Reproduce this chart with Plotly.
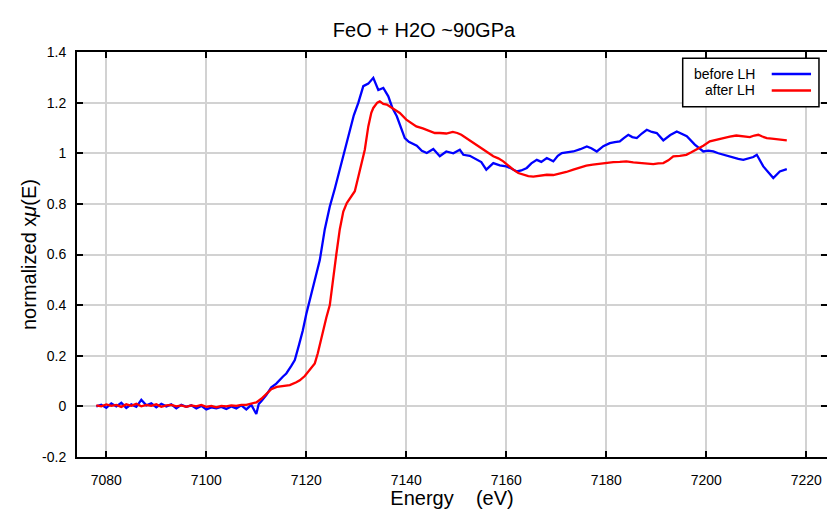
import plotly.graph_objects as go

# ---- data ----
before_energy = [7078, 7079, 7080, 7081, 7082, 7083, 7084, 7085, 7086, 7087, 7088, 7089,
                 7090, 7091, 7092, 7093, 7094, 7095, 7096, 7097, 7098, 7099, 7100, 7101,
                 7102, 7103, 7104, 7105, 7106, 7107, 7108, 7109, 7110, 7110.5, 7111, 7112,
                 7113, 7114, 7115.3, 7116, 7117, 7117.7, 7118.5, 7119.3, 7120, 7121, 7122,
                 7122.7, 7123.7, 7124.7, 7125.7, 7126.7, 7127.7, 7128.7, 7129.5, 7130.4,
                 7131.4, 7132.4, 7133.4, 7134.4, 7135.4, 7136.4, 7137.2, 7138.1, 7139,
                 7139.7, 7140.5, 7141.3, 7142.1, 7143.1, 7144.1, 7145.4, 7146.7, 7148,
                 7149.4, 7150.7, 7151.4, 7152.7, 7154, 7155, 7156, 7157.4, 7158.7, 7160,
                 7161, 7162.1, 7163, 7164.1, 7165, 7166.1, 7167, 7168.1, 7169.4, 7170.3,
                 7171.1, 7172.3, 7173.4, 7174.8, 7176.1, 7177, 7178.1, 7179.4, 7180.7,
                 7181.7, 7182.7, 7183.5, 7184.4, 7185.2, 7186.1, 7187.1, 7188.1, 7189.1,
                 7190.1, 7191.4, 7192.8, 7194.1, 7195.1, 7196.1, 7197.7, 7199.4, 7200.4,
                 7201.4, 7202.4, 7203.4, 7204.4, 7205.4, 7206.4, 7207.4, 7208.4, 7209.4,
                 7210.1, 7211.4, 7212.4, 7213.4, 7214.7, 7216.1]
before_mu = [0.000, 0.006, -0.006, 0.012, 0.000, 0.014, -0.006, 0.008, -0.002, 0.026, 0.004, 0.012,
             -0.004, 0.010, 0.000, 0.008, -0.008, 0.006, -0.002, 0.004, -0.008, 0.002, -0.012, -0.004,
             -0.008, -0.002, -0.010, 0.000, -0.008, 0.004, -0.012, 0.006, -0.030, 0.010, 0.020, 0.045,
             0.075, 0.090, 0.117, 0.130, 0.160, 0.183, 0.240, 0.300, 0.365, 0.440, 0.520,
             0.578, 0.700, 0.790, 0.860, 0.935, 1.020, 1.093, 1.150, 1.199,
             1.265, 1.275, 1.298, 1.250, 1.258, 1.225, 1.180, 1.146, 1.100,
             1.060, 1.045, 1.036, 1.030, 1.010, 1.001, 1.017, 0.988, 1.007,
             1.000, 1.014, 0.994, 0.990, 0.974, 0.965, 0.935, 0.961, 0.952, 0.948,
             0.940, 0.928, 0.932, 0.942, 0.960, 0.974, 0.966, 0.981, 0.968, 0.990,
             1.001, 1.004, 1.007, 1.016, 1.027, 1.020, 1.007, 1.028, 1.040,
             1.044, 1.047, 1.060, 1.073, 1.064, 1.060, 1.078, 1.093, 1.084,
             1.080, 1.051, 1.072, 1.086, 1.078, 1.067, 1.034, 1.007, 1.010,
             1.007, 1.000, 0.994, 0.988, 0.981, 0.978, 0.974, 0.980, 0.985,
             0.994, 0.948, 0.925, 0.902, 0.928, 0.937]

after_energy = [7078, 7079, 7080, 7081, 7082, 7083, 7084, 7085, 7086, 7087, 7088, 7089,
                7090, 7091, 7092, 7093, 7094, 7095, 7096, 7097, 7098, 7099, 7100, 7101,
                7102, 7103, 7104, 7105, 7106, 7107, 7108, 7109, 7110, 7111, 7112, 7113,
                7114.1, 7115, 7116.7, 7118, 7118.7, 7119.7, 7120.7, 7121.7, 7122.3, 7123,
                7124, 7124.7, 7125.3, 7126, 7126.7, 7127.4, 7128.1, 7129, 7129.7, 7130.2,
                7130.7, 7131.2, 7131.7, 7132.4, 7133, 7133.4, 7134.2, 7134.7, 7135.4,
                7136.1, 7137.4, 7138.7, 7140, 7141, 7142, 7143.3, 7144.7, 7145.7, 7146.7,
                7148, 7149.3, 7150.2, 7151, 7152.2, 7153.4, 7154.7, 7156, 7157.4, 7158.4,
                7159.4, 7160.4, 7161.4, 7162.4, 7163.4, 7164.4, 7165.4, 7166.7, 7168.1,
                7169.4, 7170.7, 7172, 7173.4, 7174.7, 7176, 7177.3, 7178.7, 7180, 7181.4,
                7182.7, 7184, 7185.4, 7186.7, 7188, 7189.4, 7190.4, 7191.4, 7192.4, 7193.4,
                7194.7, 7196, 7197, 7198, 7199.4, 7200.7, 7202, 7203.4, 7204.7, 7206,
                7207.4, 7208.7, 7209.6, 7210.4, 7211.2, 7212.1, 7213.1, 7214.1, 7215.1,
                7216.1]
after_mu = [0.004, 0.000, 0.008, 0.002, 0.006, -0.002, 0.008, 0.002, 0.010, 0.000, 0.006, 0.002,
            0.008, -0.002, 0.004, 0.006, 0.000, 0.004, -0.002, 0.004, 0.000, 0.006, -0.002, 0.002,
            -0.004, 0.002, 0.000, 0.004, 0.002, 0.006, 0.006, 0.010, 0.016, 0.030, 0.051, 0.068,
            0.077, 0.080, 0.084, 0.095, 0.103, 0.120, 0.143, 0.170, 0.210, 0.270,
            0.350, 0.400, 0.500, 0.600, 0.700, 0.770, 0.803, 0.830, 0.850, 0.890,
            0.935, 0.975, 1.014, 1.106, 1.160, 1.179, 1.200, 1.205, 1.195,
            1.192, 1.175, 1.159, 1.133, 1.118, 1.106, 1.098, 1.086, 1.080, 1.080,
            1.078, 1.084, 1.080, 1.073, 1.058, 1.040, 1.024, 1.007, 0.988, 0.980,
            0.968, 0.950, 0.935, 0.922, 0.915, 0.910, 0.908, 0.912, 0.915,
            0.914, 0.919, 0.926, 0.935, 0.944, 0.951, 0.955, 0.959, 0.962, 0.965,
            0.966, 0.968, 0.964, 0.961, 0.958, 0.957, 0.960, 0.961, 0.972, 0.988,
            0.990, 0.994, 1.004, 1.014, 1.030, 1.047, 1.054, 1.060, 1.066, 1.070,
            1.066, 1.064, 1.070, 1.073, 1.066, 1.060, 1.058, 1.056, 1.053,
            1.051]

x_ticks = [7080, 7100, 7120, 7140, 7160, 7180, 7200, 7220]
x_tick_labels = ["7080", "7100", "7120", "7140", "7160", "7180", "7200", "7220"]
y_ticks = [-0.2, 0, 0.2, 0.4, 0.6, 0.8, 1.0, 1.2, 1.4]
y_tick_labels = ["-0.2", "0", "0.2", "0.4", "0.6", "0.8", "1", "1.2", "1.4"]
series_names = ["before LH", "after LH"]
series_colors = ["#0000ff", "#ff0000"]

FONT = "Liberation Sans, Arial, Helvetica, sans-serif"

fig = go.Figure()
fig.add_trace(go.Scatter(x=before_energy, y=before_mu, mode="lines", name=series_names[0],
                         line=dict(color=series_colors[0], width=2.3)))
fig.add_trace(go.Scatter(x=after_energy, y=after_mu, mode="lines", name=series_names[1],
                         line=dict(color=series_colors[1], width=2.3)))

axis_common = dict(showline=True, linecolor="black", linewidth=2, mirror="ticks",
                   ticks="inside", ticklen=6, tickwidth=1.5, tickcolor="black",
                   showgrid=True, gridcolor="#d2d2d2", gridwidth=1.5, zeroline=False,
                   automargin=False,
                   tickfont=dict(family=FONT, size=14, color="black"))

fig.update_xaxes(range=[7074.14, 7224.14], tickvals=x_ticks, ticktext=x_tick_labels,
                 ticklabelstandoff=9,
                 title=dict(text="Energy\u00a0\u00a0\u00a0\u00a0(eV)",
                            font=dict(family=FONT, size=20, color="black"), standoff=4),
                 **axis_common)
fig.update_yaxes(range=[-0.2, 1.4], tickvals=y_ticks, ticktext=y_tick_labels,
                 ticklabelstandoff=6,
                 title=dict(text="normalized x<i>μ</i>(E)",
                            font=dict(family=FONT, size=20, color="black"), standoff=0),
                 **axis_common)

# legend drawn with the symbol on the right, as in the reference
shapes = [dict(type="rect", xref="paper", yref="paper", x0=0.8076, x1=0.9893,
               y0=0.865, y1=0.9844, line=dict(color="black", width=1.5), fillcolor="white",
               layer="above")]
annotations = []
for i, (name, col) in enumerate(zip(series_names, series_colors)):
    yy = 0.9457 - i * 0.0407
    shapes.append(dict(type="line", xref="paper", yref="paper", x0=0.9263, x1=0.9787,
                       y0=yy, y1=yy, line=dict(color=col, width=2.5), layer="above"))
    annotations.append(dict(xref="paper", yref="paper", x=0.9067, y=yy, text=name,
                            showarrow=False, xanchor="right", yanchor="middle",
                            font=dict(family=FONT, size=14, color="black")))

fig.update_layout(
    width=827, height=509,
    margin=dict(l=77, r=0, t=52, b=52),
    paper_bgcolor="white", plot_bgcolor="white",
    showlegend=False,
    title=dict(text="FeO + H2O ~90GPa", x=424 / 827, xanchor="center", xref="container",
               y=1 - 30 / 509, yref="container", yanchor="middle",
               font=dict(family=FONT, size=20, color="black")),
    shapes=shapes, annotations=annotations,
)

fig.write_html("out.html", config={"displayModeBar": False},
               post_script="document.body.style.margin='0';document.body.style.overflow='hidden';")
